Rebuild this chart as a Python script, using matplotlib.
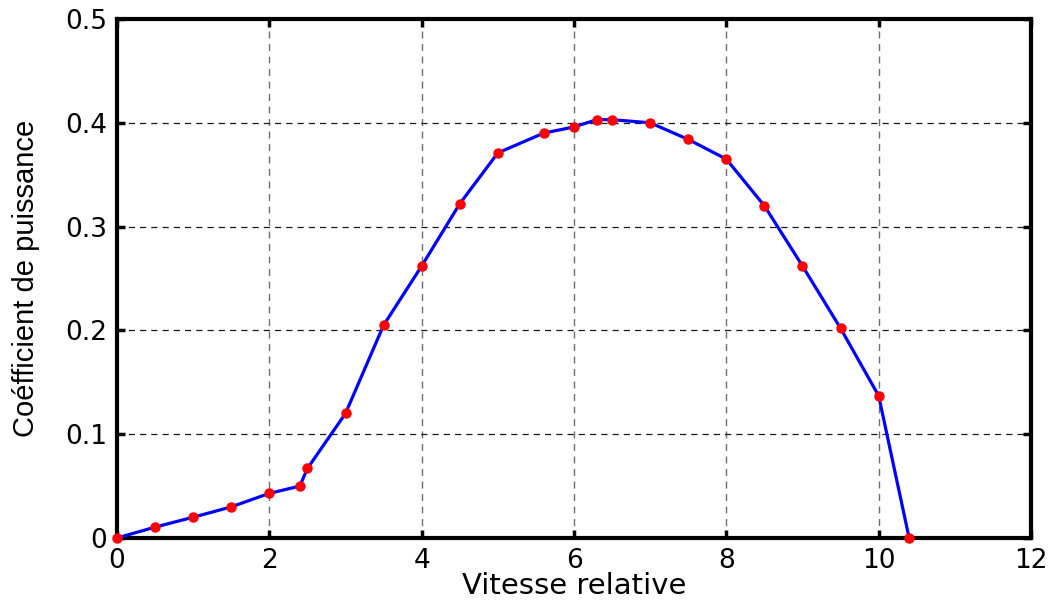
import matplotlib
matplotlib.use("Agg")
import matplotlib.pyplot as plt

x_vals = [0, 0.5, 1.0, 1.5, 2.0, 2.4, 2.5, 3.0, 3.5, 4.0, 4.5, 5.0, 5.6, 6.0,
          6.3, 6.5, 7.0, 7.5, 8.0, 8.5, 9.0, 9.5, 10.0, 10.4]
cp_vals = [0, 0.0105, 0.020, 0.030, 0.043, 0.050, 0.067, 0.120, 0.205, 0.262,
           0.322, 0.371, 0.390, 0.396, 0.403, 0.403, 0.400, 0.384, 0.365, 0.320,
           0.262, 0.202, 0.137, 0.0]
x_ticks = [0, 2, 4, 6, 8, 10, 12]
y_ticks = [0, 0.1, 0.2, 0.3, 0.4, 0.5]
y_tick_labels = ["0", "0.1", "0.2", "0.3", "0.4", "0.5"]

plt.rcParams['font.family'] = ['DejaVu Sans']
fig = plt.figure(figsize=(10.53, 6.10), dpi=100)
ax = fig.add_axes([117/1053, 1 - 538/610, (1031-117)/1053, (538-19)/610])

ax.plot(x_vals, cp_vals, color='#0000ff', linewidth=2.3, zorder=3, clip_on=False)
ax.plot(x_vals, cp_vals, linestyle='none', marker='o', markersize=6.5,
        color='#ff0000', zorder=4, clip_on=False)

ax.set_xlim(0, 12)
ax.set_ylim(0, 0.5)
ax.set_xticks(x_ticks)
ax.set_yticks(y_ticks)
ax.set_yticklabels(y_tick_labels)
ax.xaxis.grid(True, color='#6e6e6e', linestyle=(0, (5, 4)), linewidth=1.0)
ax.yaxis.grid(True, color='#1a1a1a', linestyle=(0, (5, 4)), linewidth=0.9)
ax.tick_params(direction='in', top=True, right=True, length=6, width=2.5,
               labelsize=19)
ax.tick_params(axis='x', pad=7)
ax.tick_params(axis='y', pad=7)
for s in ax.spines.values():
    s.set_linewidth(3)
ax.set_xlabel('Vitesse relative', fontsize=21, labelpad=-1)
ax.set_ylabel('Coéfficient de puissance', fontsize=21, labelpad=18,
              family=['Liberation Sans', 'DejaVu Sans'])

fig.savefig('out.png', dpi=100)
